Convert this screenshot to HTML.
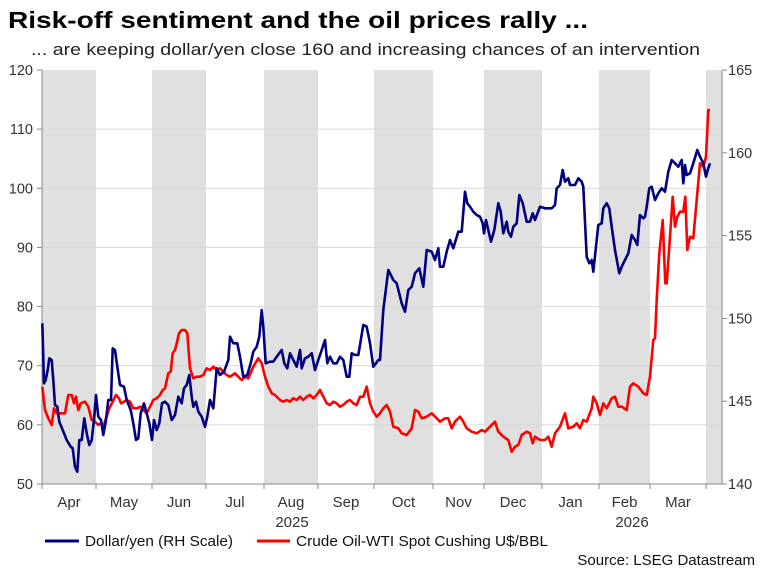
<!DOCTYPE html>
<html><head><meta charset="utf-8"><style>
body{margin:0;background:#fff;width:761px;height:569px;overflow:hidden;font-family:"Liberation Sans",Arial,sans-serif}
</style></head><body>
<svg id="s" width="761" height="569" xmlns="http://www.w3.org/2000/svg" font-family="Liberation Sans, Arial, sans-serif">
<text x="8" y="28" font-size="23" font-weight="bold" fill="#000" textLength="580" lengthAdjust="spacingAndGlyphs">Risk-off sentiment and the oil prices rally ...</text>
<text x="31" y="55" font-size="16.5" fill="#222" textLength="669" lengthAdjust="spacingAndGlyphs">... are keeping dollar/yen close 160 and increasing chances of an intervention</text>
<g fill="#e0e0e0">
<rect x="42" y="70" width="54" height="414"/><rect x="152" y="70" width="54" height="414"/>
<rect x="264" y="70" width="54" height="414"/><rect x="374" y="70" width="59" height="414"/>
<rect x="484" y="70" width="58" height="414"/><rect x="599" y="70" width="51" height="414"/>
<rect x="706" y="70" width="16" height="414"/>
</g>
<g id="grid" stroke="#d8d8d8" stroke-width="1"></g>
<g stroke="#888" stroke-width="1">
<line x1="42" y1="70" x2="42" y2="484"/><line x1="722" y1="70" x2="722" y2="484"/><line x1="42" y1="484" x2="722" y2="484"/>
</g>
<g id="ticks" stroke="#888"></g>
<g id="lab" font-size="14.5" fill="#333"></g>
<g id="mlab" font-size="15" fill="#333"></g>
<polyline id="red" fill="none" stroke="#ff0000" stroke-width="2.6" stroke-linejoin="round"/>
<polyline id="blue" fill="none" stroke="#000080" stroke-width="2.6" stroke-linejoin="round"/>
<line x1="45" y1="541" x2="79" y2="541" stroke="#000080" stroke-width="3"/>
<text x="85" y="546" font-size="15" fill="#111" textLength="148" lengthAdjust="spacingAndGlyphs">Dollar/yen (RH Scale)</text>
<line x1="257" y1="541" x2="290" y2="541" stroke="#ff0000" stroke-width="3"/>
<text x="296" y="546" font-size="15" fill="#111" textLength="252" lengthAdjust="spacingAndGlyphs">Crude Oil-WTI Spot Cushing U$/BBL</text>
<text x="755" y="565" font-size="15" fill="#111" text-anchor="end">Source: LSEG Datastream</text>
</svg>
<script>
var ns="http://www.w3.org/2000/svg";
function el(p,t,a,txt){var e=document.createElementNS(ns,t);for(var k in a)e.setAttribute(k,a[k]);if(txt)e.textContent=txt;document.getElementById(p).appendChild(e);}
for(var i=0;i<=7;i++){var y=70+i*414/7;if(i>0&&i<7)el("grid","line",{x1:42,x2:722,y1:y,y2:y});
el("lab","text",{x:33,y:y+5,"text-anchor":"end"},String(120-10*i));el("ticks","line",{x1:37,x2:42,y1:y,y2:y});}
for(var i=0;i<=5;i++){var y=70+i*414/5;el("lab","text",{x:728,y:y+5},String(165-5*i));el("ticks","line",{x1:722,x2:727,y1:y,y2:y});}
var b=[42,96,152,206,264,318,374,433,484,542,599,650,706];
var m=["Apr","May","Jun","Jul","Aug","Sep","Oct","Nov","Dec","Jan","Feb","Mar"];
for(var i=0;i<b.length;i++){el("ticks","line",{x1:b[i],x2:b[i],y1:484,y2:489});if(i<12)el("mlab","text",{x:(b[i]+b[i+1])/2,y:507,"text-anchor":"middle"},m[i]);}
el("mlab","text",{x:292,y:527,"text-anchor":"middle"},"2025");el("mlab","text",{x:632,y:527,"text-anchor":"middle"},"2026");
var B1=[127,790,132,970,137,960,143,930,148,895,155,900,160,960,165,1035,172,1040,178,1085,188,1110,200,1140,212,1160,218,1165,225,1220,232,1235,238,1140,245,1140,253,1075,260,1120,268,1155,275,1140,282,1080,288,1005,295,1070,303,1080,310,1125,318,1080,325,1020,333,1020,338,865,345,870,352,920,360,975,372,980,380,1020,392,1050,400,1090,408,1140,415,1135,422,1060,432,1030,440,1060,448,1090,456,1140,462,1080,470,1110,478,1090,486,1030,495,1025,505,1035,515,1080,525,1065,535,1010,545,1030,552,985,560,975,568,945,575,1010,580,1040,588,1025,595,1055,605,1070,615,1100,622,1070,630,1020,640,1045,650,925,660,945,672,935,685,900,690,830,700,850,712,850,720,890,730,950,742,945,752,910,760,875,770,860,778,830,785,750,790,800,797,910,810,905,820,905,830,890,845,870,853,910,862,925,870,880,880,900,890,920,900,870,905,925,915,895,925,890,935,880,945,930,955,900,965,870,975,840,982,910,990,890,1000,910,1010,910,1020,890,1030,900,1040,950,1048,950,1055,880,1065,885,1075,885,1080,855,1090,795,1100,800,1110,850,1120,920,1128,910,1135,900];
var B2=[0,900,10,750,25,630,40,660,50,670,65,730,75,755,85,690,95,680,105,640,118,625,130,680,140,570,155,575,165,600,175,565,180,620,190,620,200,575,210,540,220,565,235,515,245,515,255,395,262,430,270,440,280,455,290,465,300,470,308,490,312,520,318,480,325,510,333,545,343,510,355,430,362,455,370,520,380,485,385,515,393,530,400,500,410,490,418,405,428,430,440,485,450,485,458,460,465,480,480,440,495,445,515,445,525,435,530,385,540,375,548,330,555,365,565,355,570,375,585,375,595,355,605,365,610,380,620,590,628,610,635,600,640,635,648,560,655,495,665,490,670,445,680,430,688,445,695,500,705,570,718,640,725,620,735,600,745,580,755,525,765,540,772,555,780,465,790,475,795,470,800,440,808,385,815,380,825,420,835,400,845,385,855,395,865,335,875,300,885,310,895,320,905,300,910,370,915,315,920,345,930,340,940,310,952,270,960,290,970,310,978,350,983,330,990,310];
var R1=[127,980,135,1050,145,1075,155,1095,162,1045,170,1060,180,1060,195,1060,205,1005,215,1005,222,1030,228,1010,235,1050,242,1030,255,1025,265,1040,275,1080,285,1085,295,1095,302,1090,310,1100,318,1075,328,1045,338,1025,348,1005,357,1015,363,1030,372,1025,380,1020,390,1025,400,1045,412,1045,420,1040,430,1050,440,1060,450,1040,460,1020,470,1015,480,1005,488,990,495,985,505,940,512,935,518,880,525,870,530,850,537,820,545,810,555,810,562,820,570,925,580,955,590,950,600,950,610,945,620,925,630,930,640,920,650,930,660,925,670,935,680,945,690,950,705,940,715,950,725,960,735,950,745,955,760,920,775,895,785,910,795,950,805,980,815,1000,825,1005,840,1020,850,1025,860,1020,870,1025,880,1015,890,1020,900,1010,910,1020,920,1010,930,1005,940,1015,950,1005,960,990,970,1010,980,1030,990,1035,1000,1025,1010,1030,1020,1040,1030,1035,1040,1025,1050,1020,1060,1030,1070,1035,1080,1010,1090,1010,1100,980,1110,1030,1120,1055,1130,1070];
var R2=[0,1060,10,1045,20,1035,30,1055,40,1100,55,1105,65,1120,80,1125,95,1105,105,1050,115,1055,125,1075,140,1070,155,1060,170,1075,180,1085,195,1075,205,1075,215,1105,225,1085,240,1070,250,1085,260,1105,275,1115,290,1120,305,1110,315,1115,330,1100,345,1085,355,1115,370,1130,385,1140,395,1175,405,1160,415,1155,425,1125,440,1115,450,1120,458,1150,465,1130,480,1140,495,1140,505,1130,515,1160,525,1120,540,1100,555,1060,565,1105,580,1100,590,1090,600,1105,610,1080,620,1085,635,1045,640,1010,650,1030,660,1065,670,1030,680,1045,695,1015,705,1010,715,1040,725,1040,740,1050,750,980,760,970,775,980,790,1000,800,1005,810,950,820,840,825,835,830,720,838,580,848,480,856,670,860,670,868,560,878,410,885,500,892,470,900,455,910,455,916,410,922,570,930,530,940,535,950,420,960,310,970,320,978,290,985,150,990,150];
function pts(a,ox){var s=[];for(var i=0;i<a.length;i+=2)s.push((ox+a[i]/3).toFixed(1)+","+(60+a[i+1]/3).toFixed(1));return s;}
document.getElementById("blue").setAttribute("points",pts(B1,0).concat(pts(B2,380)).join(" "));
document.getElementById("red").setAttribute("points",pts(R1,0).concat(pts(R2,380)).join(" "));
</script>
</body></html>
